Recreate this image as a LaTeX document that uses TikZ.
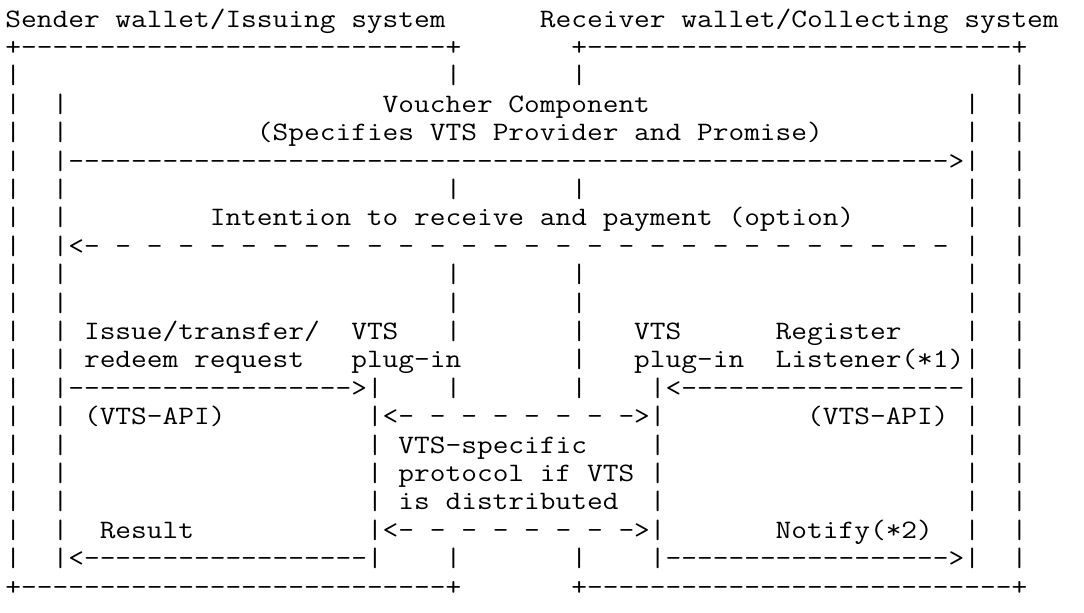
\documentclass[tikz,border=0pt]{standalone}
\usepackage{graphicx}
\usepackage{tikz}

% typewriter cell: 7.86pt wide, rows 14.2pt apart
\newcommand\vtsfont{\fontsize{13.3pt}{14.2pt}\selectfont\ttfamily}
\newlength\cellw
\newcommand\sx[1]{\scalebox{\cellratio}[1]{#1}}

\tikzset{
  ascii/.style={anchor=base west, inner sep=0pt, outer sep=0pt, font=\vtsfont},
}

% one glyph on every listed column of a row
\newcommand\glyphs[3]{\foreach \cx in {#2} \node[ascii] (g-#1-\cx) at (\cx,#1) {\sx{#3}};}
% one bar on every listed row of a column
\newcommand\pipes[2]{\foreach \ry in {#2} \node[ascii] (p-#1-\ry) at (#1,\ry) {\sx{|}};}

\begin{document}
\settowidth\cellw{\vtsfont M}
\pgfmathsetmacro\cellratio{7.86pt/\cellw}
\begin{tikzpicture}[x=7.86pt, y=-14.2pt]
      \path[use as bounding box] (-2.72pt,13.5pt) rectangle (539.28pt,-292.5pt);

      % Headings of the two systems
      \node[ascii] (sender) at (0,0) {\sx{Sender wallet/Issuing system}};
      \node[ascii] (receiver) at (34,0) {\sx{Receiver wallet/Collecting system}};

      % Outer boxes
      \glyphs{1}{0,28,36,64}{+}
      \glyphs{20}{0,28,36,64}{+}
      \glyphs{1}{1,...,27}{-}
      \glyphs{1}{37,...,63}{-}
      \glyphs{20}{1,...,27}{-}
      \glyphs{20}{37,...,63}{-}
      \pipes{0}{2,...,19}
      \pipes{64}{2,...,19}

      % Wallet and plug-in lifelines
      \pipes{3}{3,...,19}
      \pipes{61}{3,...,19}
      \pipes{28}{2,6,9,10,11,13,19}
      \pipes{36}{2,6,9,10,11,12,13,19}
      \pipes{23}{13,...,19}
      \pipes{41}{13,...,19}

      % Voucher component
      \node[ascii] (voucher) at (24,3) {\sx{Voucher Component}};
      \node[ascii] (specifies) at (16,4) {\sx{(Specifies VTS Provider and Promise)}};
      \glyphs{5}{4,...,59}{-}
      \glyphs{5}{60}{>}

      % Intention, dashed back
      \node[ascii] (intention) at (13,7) {\sx{Intention to receive and payment (option)}};
      \glyphs{8}{4}{<}
      \glyphs{8}{5,7,...,59}{-}

      % Requests into the plug-ins
      \node[ascii] (issue) at (5,11) {\sx{Issue/transfer/}};
      \node[ascii] (redeem) at (5,12) {\sx{redeem request}};
      \node[ascii] (vtsL) at (22,11) {\sx{VTS}};
      \node[ascii] (plugL) at (22,12) {\sx{plug-in}};
      \node[ascii] (vtsR) at (40,11) {\sx{VTS}};
      \node[ascii] (plugR) at (40,12) {\sx{plug-in}};
      \node[ascii] (register) at (49,11) {\sx{Register}};
      \node[ascii] (listener) at (49,12) {\sx{Listener(*1)}};
      \glyphs{13}{4,...,21}{-}
      \glyphs{13}{22}{>}
      \glyphs{13}{42}{<}
      \glyphs{13}{43,...,60}{-}

      % VTS-specific protocol between plug-ins
      \node[ascii] (apiL) at (5,14) {\sx{(VTS-API)}};
      \node[ascii] (apiR) at (51,14) {\sx{(VTS-API)}};
      \foreach \ry in {14,18} {
        \glyphs{\ry}{24}{<}
        \glyphs{\ry}{25,27,...,39}{-}
        \glyphs{\ry}{40}{>}
      }
      \node[ascii] (proto1) at (25,15) {\sx{VTS-specific}};
      \node[ascii] (proto2) at (25,16) {\sx{protocol if VTS}};
      \node[ascii] (proto3) at (25,17) {\sx{is distributed}};

      % Result and notification
      \node[ascii] (result) at (6,18) {\sx{Result}};
      \node[ascii] (notify) at (49,18) {\sx{Notify(*2)}};
      \glyphs{19}{4}{<}
      \glyphs{19}{5,...,22}{-}
      \glyphs{19}{42,...,59}{-}
      \glyphs{19}{60}{>}

    \end{tikzpicture}
\end{document}
